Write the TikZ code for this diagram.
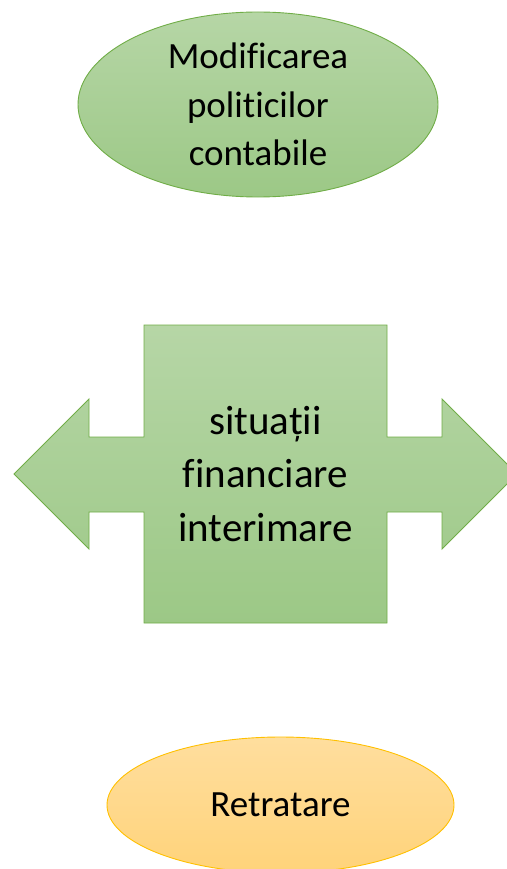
\documentclass[tikz,border=0pt]{standalone}
\usepackage{fontspec}
\setmainfont{Carlito}[RawFeature={-liga}]
\usetikzlibrary{shapes.geometric}
\definecolor{gtop}{RGB}{182,214,166}
\definecolor{gbot}{RGB}{156,200,134}
\definecolor{gline}{RGB}{112,173,71}
\definecolor{otop}{RGB}{255,222,158}
\definecolor{obot}{RGB}{255,211,122}
\definecolor{oline}{RGB}{255,192,0}
\tikzset{
  greenfill/.style={top color=gtop, bottom color=gbot, draw=gline, line width=0.9pt},
  orangefill/.style={top color=otop, bottom color=obot, draw=oline, line width=0.9pt},
  ovalnode/.style={ellipse, inner sep=0pt, align=center, text=black},
}
\begin{document}
\begin{tikzpicture}[x=1pt,y=-1pt]
\useasboundingbox (0,0) rectangle (506,869);
% top ellipse
\node[ovalnode, greenfill, minimum width=360pt, minimum height=185pt,
      font=\fontsize{37}{48.5}\selectfont] (mod) at (258,104.5)
      {Modificarea\\politicilor\\contabile};
% double arrow shape
\path[greenfill] (144,325) -- (387,325) -- (387,437) -- (442,437) -- (442,399)
  -- (517,474) -- (442,549) -- (442,512) -- (387,512) -- (387,623)
  -- (144,623) -- (144,512) -- (89,512) -- (89,549) -- (14,474) -- (89,399)
  -- (89,437) -- (144,437) -- cycle;
\node[align=center, inner sep=0pt, font=\fontsize{41}{53.5}\selectfont] (sit) at (265.5,474)
  {situații\\financiare\\interimare};
% bottom ellipse
\node[ovalnode, orangefill, minimum width=347pt, minimum height=136pt,
      font=\fontsize{37}{46}\selectfont] (ret) at (280.5,805) {Retratare};
\end{tikzpicture}
\end{document}
